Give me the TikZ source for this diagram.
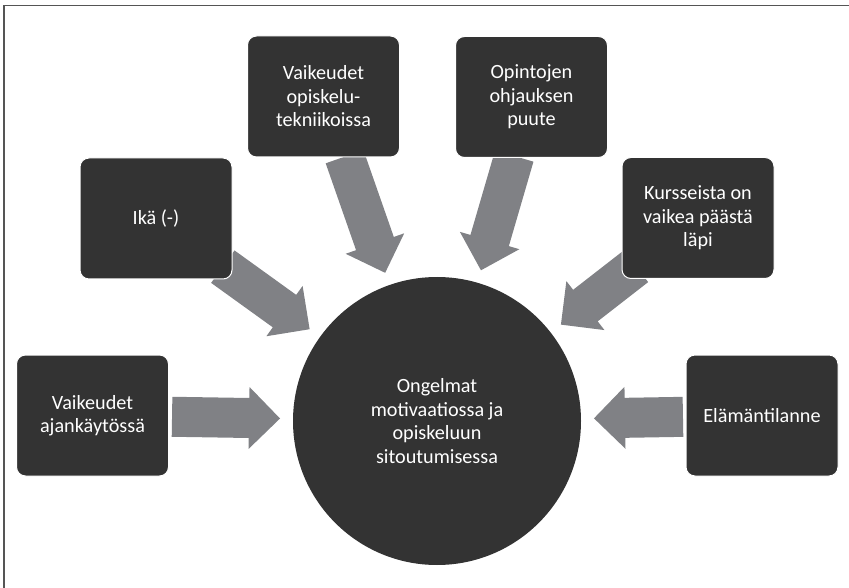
\documentclass[tikz,border=0pt]{standalone}
\usepackage{fontspec}
\setmainfont{Carlito}
\usepackage{tikz}
\usetikzlibrary{calc,backgrounds}

\definecolor{boxgray}{RGB}{51,51,51}
\definecolor{arrowgray}{RGB}{128,129,133}
\definecolor{framegray}{RGB}{85,85,85}

% block arrow from tail #1 to tip #2
\newcommand{\convarrow}[2]{%
	\coordinate (hb) at ($(#2)!31pt!(#1)$);
	\fill[arrowgray] ($(#1)!20pt!90:(#2)$) -- ($(hb)!20pt!-90:(#1)$)
		-- ($(hb)!31pt!-90:(#1)$) -- (#2) -- ($(hb)!31pt!90:(#1)$)
		-- ($(hb)!20pt!90:(#1)$) -- ($(#1)!20pt!-90:(#2)$) -- cycle;
}

\begin{document}
\begin{tikzpicture}[x=1pt, y=-1pt,
	txt/.style={text=white, align=center, font=\fontsize{20.2}{23.5}\selectfont},
	box/.style={txt, fill=boxgray, draw=white, line width=1pt, rounded corners=9pt,
		minimum width=152pt, minimum height=121pt, inner sep=2pt},
	hub/.style={txt, circle, fill=boxgray, minimum size=288pt, inner sep=0pt}]
	\useasboundingbox (0,0) rectangle (849,588);

	% frame
	\draw[framegray, line width=1.3pt] (4,588) -- (4,5.5) -- (849,5.5);

	% centre
	\node[hub] (prob) at (437,421) {Ongelmat\\motivaatiossa ja\\opiskeluun\\sitoutumisessa};

	% causes
	\node[box] (aika) at (92.5,415.5) {Vaikeudet\\ajankäytössä};
	\node[box] (ika) at (156,218.5) {Ikä (-)};
	\node[box] (tekn) at (323.5,96.5) {Vaikeudet\\opiskelu-\\tekniikoissa};
	\node[box] (ohj) at (531.5,97) {Opintojen\\ohjauksen\\puute};
	\node[box] (kurss) at (698,218) {Kursseista on\\vaikea päästä\\läpi};
	\node[box] (elama) at (762,415.5) {Elämäntilanne};

	% arrows, under the boxes
	\begin{scope}[on background layer]
		\foreach \nm/\r in {aika/265pt, ika/264pt, tekn/280pt, ohj/276pt, kurss/252pt, elama/246pt} {
			\coordinate (\nm-tail) at ($(prob)!\r!(\nm)$);
			\coordinate (\nm-tip) at ($(prob)!157pt!(\nm)$);
			\convarrow{\nm-tail}{\nm-tip}
		}
	\end{scope}
\end{tikzpicture}
\end{document}
